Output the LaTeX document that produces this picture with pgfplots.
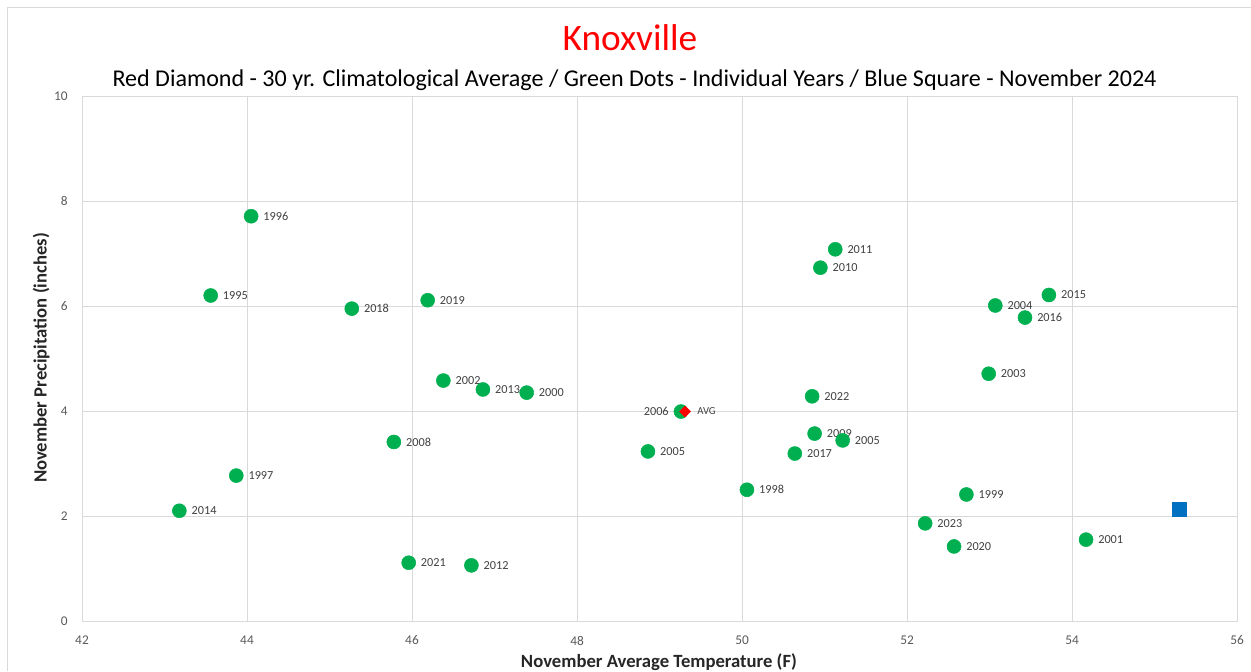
\documentclass[border=0pt]{standalone}
\usepackage{pgfplots}
\pgfplotsset{compat=1.18}
\usepackage{fontspec}
\setmainfont{Carlito}
\definecolor{dotgreen}{HTML}{00B050}
\definecolor{sqblue}{HTML}{0070C0}
\definecolor{gridgray}{HTML}{D9D9D9}
\definecolor{ticktext}{HTML}{595959}
\definecolor{labtext}{HTML}{404040}
\definecolor{titletext}{HTML}{262626}
\begin{document}
\begin{tikzpicture}[x=0.75pt,y=-0.75pt]
\useasboundingbox (0,0) rectangle (1251,671);
\draw[gridgray, line width=0.75pt] (7,671) -- (7,7) -- (1251,7);
\node[anchor=base, font=\fontsize{28}{30}\selectfont, text=red] at (630,50) {Knoxville};
\node[anchor=base, font=\fontsize{18.05}{20}\selectfont, text=black] at (634.5,86) {Red Diamond - 30 yr. Climatological Average / Green Dots - Individual Years / Blue Square - November 2024};
\begin{axis}[
  at={(61.5pt,-465.75pt)}, anchor=south west,
  scale only axis, width=866.25pt, height=393.75pt,
  xmin=42, xmax=56, ymin=0, ymax=10,
  xtick={42,44,...,56}, ytick={0,2,...,10},
  grid=major, major grid style={gridgray, line width=0.75pt},
  axis line style={gridgray, line width=0.75pt},
  major tick length=0pt, minor tick num=0,
  /pgf/number format/assume math mode=true,
  tick label style={font=\fontsize{10}{12}\selectfont, text=ticktext},
  xticklabel style={inner sep=0pt, yshift=-11pt},
  yticklabel style={inner sep=0pt, xshift=-10.5pt},
  clip=false,
]
\addplot[only marks, mark=*, mark size=5.25pt, color=dotgreen,
  nodes near coords, point meta=explicit symbolic,
  every node near coord/.append style={anchor=west, inner sep=0pt, xshift=9pt, font=\fontsize{9.2}{10}\selectfont, text=labtext}]
  table[meta=label] {
x y label
44.05 7.71 1996
43.56 6.20 1995
45.27 5.95 2018
46.19 6.11 2019
46.38 4.58 2002
46.86 4.41 2013
47.39 4.35 2000
45.78 3.41 2008
43.87 2.77 1997
43.18 2.10 2014
45.96 1.11 2021
46.72 1.06 2012
48.86 3.23 2005
50.06 2.50 1998
51.13 7.08 2011
50.95 6.73 2010
50.85 4.28 2022
50.88 3.57 2009
51.22 3.44 2005
50.64 3.19 2017
53.07 6.01 2004
53.72 6.21 2015
53.43 5.78 2016
52.99 4.71 2003
52.72 2.41 1999
52.22 1.86 2023
52.57 1.42 2020
54.17 1.55 2001
};
\addplot[only marks, mark=*, mark size=5.25pt, color=dotgreen,
  nodes near coords, point meta=explicit symbolic,
  every node near coord/.append style={anchor=east, inner sep=0pt, xshift=-9pt, font=\fontsize{9.2}{10}\selectfont, text=labtext}]
  table[meta=label] {
x y label
49.26 3.99 2006
};
\addplot[only marks, mark=square*, mark size=2.9pt, color=red, mark options={rotate=45},
  nodes near coords, point meta=explicit symbolic,
  every node near coord/.append style={anchor=west, inner sep=0pt, xshift=9pt, font=\fontsize{8}{10}\selectfont, text=labtext}]
  table[meta=label] {
x y label
49.31 3.99 AVG
};
\addplot[only marks, mark=square*, mark size=5pt, color=sqblue] coordinates {(55.30,2.13)};
\end{axis}
\node[anchor=base, font=\bfseries\fontsize{14}{16}\selectfont, text=titletext] at (659,667) {November Average Temperature (F)};
\node[anchor=base, rotate=90, font=\bfseries\fontsize{14}{16}\selectfont, text=titletext] at (46.7,358) {November Precipitation (inches)};
\end{tikzpicture}
\end{document}
